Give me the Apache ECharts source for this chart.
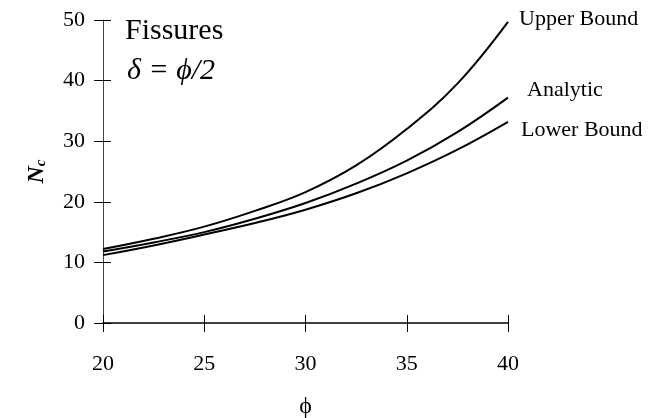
<!DOCTYPE html>
<html>
<head>
<meta charset="utf-8">
<script src="https://cdn.jsdelivr.net/npm/echarts@6/dist/echarts.min.js"></script>
<style>
  html, body { margin: 0; padding: 0; background: #fff; }
  #chart { width: 664px; height: 418px; }
</style>
</head>
<body>
<div id="chart"></div>
<script>
// friction angle phi (degrees)
const phi = [20, 22.5, 25, 27.5, 30, 32.5, 35, 37.5, 40];

// Nc values
const upperBound = [12.2, 13.9, 15.9, 18.5, 21.6, 26.0, 32.0, 39.5, 49.7];
const analytic = [11.8, 13.3, 15.0, 17.2, 19.8, 23.0, 26.8, 31.5, 37.2];
const lowerBound = [11.2, 12.8, 14.6, 16.5, 18.7, 21.4, 24.7, 28.6, 33.2];

const xTicks = [20, 25, 30, 35, 40];
const yTicks = [0, 10, 20, 30, 40, 50];

const serif = '"Liberation Serif", "DejaVu Serif", serif';

function pairs(ys) {
  return phi.map((x, i) => [x, ys[i]]);
}

function lineSeries(name, ys) {
  return {
    name: name,
    type: 'line',
    data: pairs(ys),
    smooth: 0.4,
    symbol: 'none',
    lineStyle: { color: '#000', width: 2 },
  };
}

const chart = echarts.init(document.getElementById('chart'));

const option = {
  animation: false,
  backgroundColor: '#fff',
  grid: { left: 103, right: 156, top: 20, bottom: 95, outerBoundsMode: 'none', containLabel: false },
  xAxis: [
    {
      type: 'value',
      min: xTicks[0],
      max: xTicks[xTicks.length - 1],
      interval: 5,
      name: 'ϕ',
      nameLocation: 'middle',
      nameGap: 72,
      nameTextStyle: { fontFamily: serif, fontSize: 24, color: '#000' },
      axisLine: { onZero: false, lineStyle: { color: '#000', width: 1.5 } },
      axisTick: { length: 9, lineStyle: { color: '#000' } },
      axisLabel: { margin: 30, fontFamily: serif, fontSize: 22, color: '#000' },
      splitLine: { show: false },
    },
    {
      type: 'value',
      position: 'bottom',
      min: xTicks[0],
      max: xTicks[xTicks.length - 1],
      interval: 5,
      axisLine: { show: false },
      axisTick: { inside: true, length: 8, lineStyle: { color: '#000' } },
      axisLabel: { show: false },
      splitLine: { show: false },
    },
  ],
  yAxis: [
    {
      type: 'value',
      min: yTicks[0],
      max: yTicks[yTicks.length - 1],
      interval: 10,
      name: '{n|N}{c|c}',
      nameLocation: 'middle',
      nameGap: 54,
      nameRotate: 90,
      nameTextStyle: {
        rich: {
          n: { fontFamily: serif, fontSize: 24, fontStyle: 'italic', fontWeight: 'bold', color: '#000' },
          c: { fontFamily: serif, fontSize: 15, fontStyle: 'italic', fontWeight: 'bold', color: '#000', padding: [8, 0, 0, 0] },
        },
      },
      axisLine: { show: true, lineStyle: { color: '#444', width: 1 } },
      axisTick: { show: true, length: 9, lineStyle: { color: '#000' } },
      axisLabel: { margin: 18, fontFamily: serif, fontSize: 22, color: '#000' },
      splitLine: { show: false },
    },
    {
      type: 'value',
      position: 'left',
      min: yTicks[0],
      max: yTicks[yTicks.length - 1],
      interval: 10,
      axisLine: { show: false },
      axisTick: { show: true, inside: true, length: 8, lineStyle: { color: '#000' } },
      axisLabel: { show: false },
      splitLine: { show: false },
    },
  ],
  series: [
    lineSeries('Upper Bound', upperBound),
    lineSeries('Analytic', analytic),
    lineSeries('Lower Bound', lowerBound),
  ],
  graphic: [
    {
      type: 'text', left: 125, top: 16,
      style: { text: 'Fissures', font: '30px ' + serif, fill: '#000' },
    },
    {
      type: 'text', left: 127, top: 56,
      style: { text: 'δ = ϕ/2', font: 'italic 30px ' + serif, fill: '#000' },
    },
    {
      type: 'text', left: 519, top: 8,
      style: { text: 'Upper Bound', font: '22px ' + serif, fill: '#000' },
    },
    {
      type: 'text', left: 527, top: 79,
      style: { text: 'Analytic', font: '22px ' + serif, fill: '#000' },
    },
    {
      type: 'text', left: 521, top: 119,
      style: { text: 'Lower Bound', font: '22px ' + serif, fill: '#000' },
    },
  ],
};

chart.setOption(option);
</script>
</body>
</html>
